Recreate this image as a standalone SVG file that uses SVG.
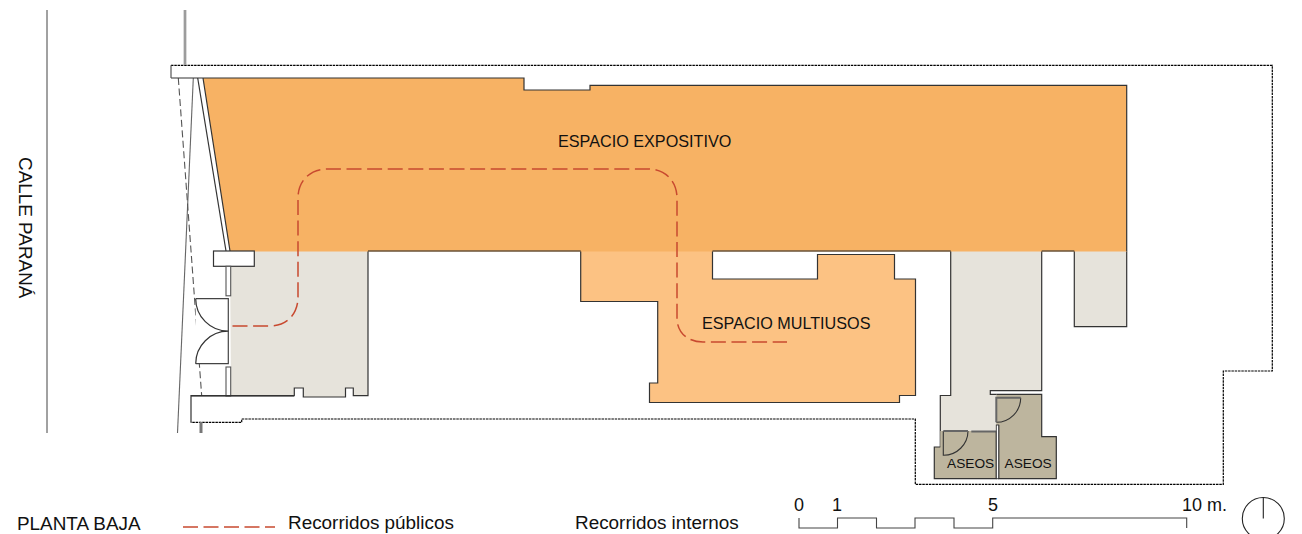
<svg xmlns="http://www.w3.org/2000/svg" width="1302" height="534" viewBox="0 0 1302 534">
<style>
text{font-family:"Liberation Sans",Arial,sans-serif;fill:#111}
.t{font-size:16.2px}
.b{font-size:18.9px}
.s{font-size:13.7px}
.w{fill:none;stroke:#333;stroke-width:1.2}
.d{fill:none;stroke:#000;stroke-width:1.2;stroke-dasharray:2.5 .8}
.r{fill:none;stroke:#c8492f;stroke-width:1.5;stroke-dasharray:15 5.6}
.o{fill:#bdb59e;stroke:none}
</style>
<rect width="1302" height="534" fill="#fff"/>
<g id="limite-parcela">
<path class="d" d="M171,65.300H1272.300V371H1223.300V484.300H915.300V419H241.700V422.300H190.700"/>
<line x1="185" y1="10" x2="185" y2="65" stroke="#888" stroke-width="2.600"/>
<line x1="185" y1="10" x2="185" y2="65" stroke="#ccc" stroke-width=".6"/>
<line x1="47" y1="10" x2="47" y2="433" stroke="#444" stroke-width="1"/>
<line x1="193.300" y1="78" x2="177.500" y2="433" stroke="#666" stroke-width="1.100"/>
<line x1="178.300" y1="78" x2="201.700" y2="396" stroke="#555" stroke-width="1.100" stroke-dasharray="7 3.500"/>
<line x1="201" y1="422" x2="201" y2="433" stroke="#777" stroke-width="3"/>
</g>
<g id="espacio-vestibulo">
<path d="M230,251H368V395.700H353.300V388H345.500V397H303.300V388H294.300V395.700H231Z" fill="#e6e3db"/>
<path class="w" d="M368,251V395.700H353.300V388H345.500V397H303.300V388H294.300V395.700H191V422.300"/>
</g>
<g id="espacio-multiusos">
<path d="M580.700,251V301.500H657.700V383H649.500V402.500H899.500V395.500H915.500V279H894.500V254.500H817.500V279H712.500V251Z" fill="#fcc283"/>
<path class="w" d="M580.700,251V301.500H657.700V383H649.500V402.500H899.500V395.500H915.500V279H894.500V254.500H817.500V279H712.500V251"/>
</g>
<g id="espacio-circulacion">
<path d="M950.700,251H1041.700V390.700H990.300V394.300H996.300V431H940.300V395.500H950.700Z" fill="#e6e3db"/>
<path class="w" d="M950.700,251V395.500H940.300V447M1041.700,251V390.700H990.300V394.300H996.300"/>
<path d="M1074.300,251H1126.700V326.700H1074.300Z" fill="#e6e3db"/>
<path class="w" d="M1074.300,251V326.700H1126.700V251"/>
</g>
<g id="espacio-expositivo">
<path d="M203,78H524V90H590V85.300H1126.700V251.500H230Z" fill="#f7b264"/>
<path fill="none" stroke="#333" stroke-width="1.200" d="M171,78H524V90H590V85.300H1126.700V251M203,78L230,251"/>
<path fill="none" stroke="#222" stroke-width="1.200" d="M368,251H580.700M712.500,251H950.700M1041.700,251H1074.300"/>
<line x1="197.700" y1="78" x2="226" y2="251" stroke="#333" stroke-width="1.200"/>
<text x="558" y="146.500" class="t">ESPACIO EXPOSITIVO</text>
</g>
<g id="muros-acceso">
<path d="M171,65.300V78" fill="none" stroke="#555" stroke-width="1.200"/>
<rect x="213.500" y="251" width="40.800" height="15.300" fill="#fff" stroke="#333" stroke-width="1.200"/>
<rect x="226" y="266.300" width="4.700" height="29.500" fill="#fff" stroke="#555" stroke-width="1.100"/>
<rect x="226" y="367" width="4.700" height="29" fill="#fff" stroke="#555" stroke-width="1.100"/>
<path d="M191,395.700H294" fill="none" stroke="#333" stroke-width="1.600"/>
</g>
<g id="puerta-acceso">
<path d="M195.700,298.700H228.300V363.700H195.700" fill="#fff" stroke="#444" stroke-width="1.200"/>
<path class="w" d="M195.700,298.700A32.600,32.600 0 0 0 228.300,331.200A32.600,32.600 0 0 0 195.700,363.700"/>
</g>
<g id="aseo-1">
<path class="o" d="M996.300,431H940.300V447H934.300V478.700H996.300Z"/>
<path class="w" d="M940.300,447H934.300V478.700H996.300V431"/>
<path d="M943.300,431V455.300A24.500,24.500 0 0 0 968,431" fill="none" stroke="#333" stroke-width="1.100"/>
<path d="M943.300,431H968M971.300,431.500H996" fill="none" stroke="#666" stroke-width="2"/>
<text x="947" y="467.500" class="s">ASEOS</text>
</g>
<g id="aseo-2">
<path class="o" d="M996.300,394.300H1041.700V436.700H1056.300V478.700H998.700V425H996.300Z"/>
<path class="w" d="M996.300,394.300H1041.700V436.700H1056.300V478.700H998.700V425"/>
<path d="M1020.700,397.700A24.500,24.500 0 0 1 996.300,422.300" fill="none" stroke="#333" stroke-width="1.100"/>
<path d="M996.300,422.300V397.700H1020.700" fill="none" stroke="#666" stroke-width="2"/>
<rect x="996.300" y="425" width="2.400" height="53.700" fill="#fff" stroke="#333" stroke-width=".9"/>
<text x="1004.500" y="467.500" class="s">ASEOS</text>
</g>
<g id="recorrido">
<path class="r" d="M232.500,326H270C287,326 298,314 298,297V198C298,181 310,169 327,169H648C665,169 677,181 677,198V318C677,333 688,342 703,342H787"/>
</g>
<g id="rotulos">
<text x="702" y="329" class="t">ESPACIO MULTIUSOS</text>
<text transform="translate(18.500,157) rotate(90)" class="b">CALLE PARANÁ</text>
</g>
<g id="leyenda">
<text x="17" y="529.500" class="b">PLANTA BAJA</text>
<line x1="183" y1="527" x2="275" y2="527" stroke="#c8492f" stroke-width="1.500" stroke-dasharray="15 5.500"/>
<text x="288" y="529" class="b">Recorridos públicos</text>
<text x="575" y="529" class="b">Recorridos internos</text>
</g>
<g id="escala">
<path d="M799,518V528H837.500V518H876.500V528H915V518H954V528H992.700V518H1186.700V528" fill="none" stroke="#444" stroke-width="1.100"/>
<text x="794" y="511" font-size="18">0</text>
<text x="832" y="511" font-size="18">1</text>
<text x="988" y="511" font-size="18">5</text>
<text x="1182" y="511" font-size="18">10 m.</text>
</g>
<g id="norte">
<circle cx="1263.300" cy="518.500" r="21" fill="none" stroke="#222" stroke-width="1.100"/>
<line x1="1263.300" y1="497.500" x2="1263.300" y2="518.500" stroke="#222" stroke-width="1.100"/>
</g>
</svg>
